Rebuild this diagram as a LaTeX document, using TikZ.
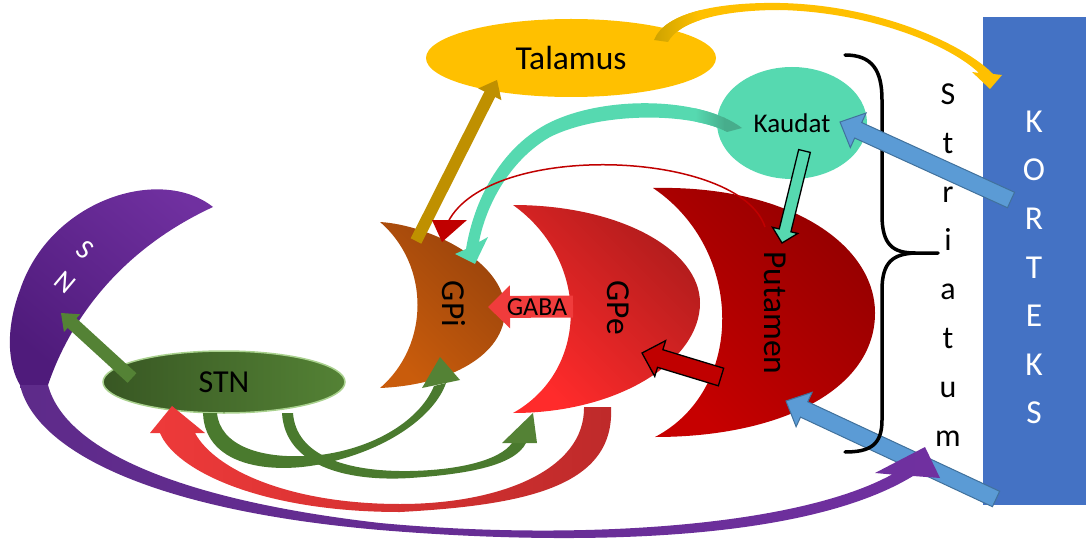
\documentclass[tikz,border=0pt]{standalone}
\usepackage{fontspec}
\setmainfont{Carlito}
\usetikzlibrary{calc,shapes.geometric}
\definecolor{kortB}{HTML}{4472C4}
\definecolor{talY}{HTML}{FFC000}
\definecolor{goldStart}{HTML}{C9A000}
\definecolor{goldD}{HTML}{BF9000}
\definecolor{kaudT}{HTML}{56D9B0}
\definecolor{tealStart}{HTML}{47AD8C}
\definecolor{stnD}{HTML}{385723}
\definecolor{stnL}{HTML}{548235}
\definecolor{stnEdge}{HTML}{A9D18E}
\definecolor{grn}{HTML}{548235}
\definecolor{grnBand}{HTML}{4A7A2E}
\definecolor{snTop}{HTML}{7030A0}
\definecolor{snBot}{HTML}{4F1B7B}
\definecolor{snTail}{HTML}{5E2B8A}
\definecolor{gpiL}{HTML}{C95C0C}
\definecolor{gpiD}{HTML}{9A440C}
\definecolor{gpeL}{HTML}{FF2B2B}
\definecolor{gpeD}{HTML}{B01C1C}
\definecolor{putL}{HTML}{C60000}
\definecolor{putD}{HTML}{940000}
\definecolor{gabaR}{HTML}{F03C3C}
\definecolor{redBand}{HTML}{EE3A3A}
\definecolor{redBandD}{HTML}{BE2A2A}
\definecolor{arcR}{HTML}{C00000}
\definecolor{blueA}{HTML}{5B9BD5}
\definecolor{blueE}{HTML}{41719C}

% #1 style, #2 tail coordinate, #3 tip coordinate, #4 half shaft, #5 half head, #6 head length
\newcommand\blockarrow[6]{%
  \path[#1] ($(#2)!#4!90:(#3)$) -- ($(#3)!#6!(#2)!#4!-90:(#2)$) -- ($(#3)!#6!(#2)!#5!-90:(#2)$)
    -- (#3) -- ($(#3)!#6!(#2)!#5!90:(#2)$) -- ($(#3)!#6!(#2)!#4!90:(#2)$) -- ($(#2)!#4!-90:(#3)$) -- cycle;}

\newcommand\goldbandpath{(654,40) .. controls (665,12) and (720,2) .. (780,3) .. controls (880,5) and (965,45) .. (993,74)
  -- (1002,75) -- (990,89) -- (972,72) -- (979,73) .. controls (950,45) and (870,12) .. (780,10)
  .. controls (725,10) and (680,20) .. (668,42) -- cycle}
\newcommand\tealbandpath{(742,128) .. controls (700,96) and (600,95) .. (545,125) .. controls (500,150) and (474,200) .. (466,249)
  -- (455,254) -- (475,264) -- (488,237) -- (479,242) .. controls (486,205) and (510,160) .. (550,137)
  .. controls (600,112) and (690,112) .. (727,132) -- cycle}

\begin{document}
\begin{tikzpicture}[x=1pt,y=-1pt,
  bigtxt/.style={font=\fontsize{33.5}{40}\selectfont, inner sep=0pt},
  kortletter/.style={bigtxt, text=white, anchor=base},
  strletter/.style={font=\fontsize{32}{38}\selectfont, inner sep=0pt, text=black, anchor=base},
  vtxt/.style={bigtxt, rotate=-90},
  blueArrow/.style={fill=blueA, draw=blueE, line width=1pt},
  outlineArrow/.style={draw=black, line width=1.3pt, line join=miter},
  bandGreen/.style={fill=grnBand},
  headGreen/.style={fill=grn}]
\useasboundingbox (0,0) rectangle (1086,540);

% ---- Korteks
\fill[kortB] (983,17) rectangle (1086,505);
\foreach \l [count=\i from 0] in {K,O,R,T,E,K,S}
  \node[kortletter] (kort\i) at (1034,{132.5+48.5*\i}) {\l};

% ---- Striatum letters
\foreach \l [count=\i from 0] in {S,t,r,i,a,t,u,m}
  \node[strletter] (str\i) at (948,{104.5+48.8*\i}) {\l};

% ---- SN crescent
\shade[top color=snTop, bottom color=snBot, shading angle=-40]
  (213,207) .. controls (160,165) and (50,200) .. (20,290) .. controls (5,330) and (8,365) .. (20,385)
  -- (48,385) .. controls (70,320) and (120,250) .. (213,207) -- cycle;

% ---- crescents
\shade[top color=putD, bottom color=putL, shading angle=-45]
  (653,188) .. controls (790,185) and (875,245) .. (875,313) .. controls (875,390) and (780,437) .. (655,437)
  .. controls (745,390) and (745,250) .. (653,188) -- cycle;
\shade[top color=gpeD, bottom color=gpeL, shading angle=-45]
  (513,205) .. controls (620,205) and (700,250) .. (700,303) .. controls (700,360) and (620,413) .. (513,413)
  .. controls (590,370) and (590,260) .. (513,205) -- cycle;
\shade[top color=gpiD, bottom color=gpiL, shading angle=-45]
  (380,222) .. controls (430,225) and (505,262) .. (505,310) .. controls (505,355) and (450,385) .. (380,388)
  .. controls (430,345) and (430,265) .. (380,222) -- cycle;

% ---- ellipses
\node[ellipse, fill=talY, minimum width=290pt, minimum height=78pt, inner sep=0pt,
  font=\fontsize{33.5}{40}\selectfont] (talamus) at (571,58) {Talamus};
\node[ellipse, fill=kaudT, minimum width=150pt, minimum height=112pt, inner sep=0pt,
  font=\fontsize{27}{32}\selectfont] (kaudat) at (792,123) {Kaudat};
\node[ellipse, left color=stnD, right color=stnL, draw=stnEdge, line width=1.5pt,
  minimum width=242pt, minimum height=62pt, inner sep=0pt,
  font=\fontsize{32}{38}\selectfont] (stn) at (224,382) {STN};

% ---- blue arrow to putamen, brace, blue arrow to kaudat
\coordinate (b2tail) at (996,499);
\coordinate (b2tip) at (786,401);
\blockarrow{blueArrow}{b2tail}{b2tip}{8.5pt}{19pt}{20pt}
\draw[line width=3.5pt, line cap=round]
  (845,55) .. controls (872,55) and (882,70) .. (882,100) -- (882,215)
  .. controls (882,245) and (893,253) .. (915,253) -- (938,253);
\draw[line width=3.5pt, line cap=round]
  (915,253) .. controls (893,254) and (882,262) .. (882,290) -- (882,420)
  .. controls (882,445) and (870,452) .. (845,452);
\coordinate (b1tail) at (1011,200);
\coordinate (b1tip) at (840,122);
\blockarrow{blueArrow}{b1tail}{b1tip}{8.5pt}{19pt}{20pt}

% ---- purple tail from SN to striatum
\shade[left color=snTail, right color=snTop]
  (20,385) .. controls (35,450) and (150,510) .. (380,530) .. controls (560,545) and (800,545) .. (913,476)
  -- (940,478) -- (925,447) -- (875,473) -- (892,474.5)
  .. controls (790,530) and (560,540) .. (380,523) .. controls (180,500) and (65,450) .. (48,385) -- cycle;

% ---- green STN -> SN
\coordinate (g0tail) at (132,378);
\coordinate (g0tip) at (61,313);
\blockarrow{fill=grn}{g0tail}{g0tip}{6.5pt}{12pt}{15pt}

% ---- red band GPe -> STN
\shade[left color=redBand, right color=redBandD]
  (611,407) .. controls (615,485) and (530,505) .. (400,512) .. controls (260,512) and (175,470) .. (160,433)
  -- (150,433) -- (172,406) -- (205,433) -- (195,433)
  .. controls (215,470) and (290,504) .. (400,504) .. controls (500,504) and (585,470) .. (584,407) -- cycle;

% ---- green bands STN -> GPi, STN -> GPe
\fill[bandGreen]
  (203,413) .. controls (205,470) and (280,475) .. (330,462) .. controls (390,448) and (435,415) .. (446,383)
  -- (434,386) .. controls (420,420) and (375,448) .. (320,455) .. controls (260,461) and (220,445) .. (217,413) -- cycle;
\fill[headGreen] (422,388) -- (440,357) -- (460,380) -- cycle;
\fill[bandGreen]
  (282,413) .. controls (285,465) and (345,482) .. (410,478) .. controls (470,474) and (515,465) .. (526,443)
  -- (512,443) .. controls (500,460) and (460,470) .. (410,471) .. controls (345,472) and (296,455) .. (293,413) -- cycle;
\fill[headGreen] (502,443) -- (533,413) -- (537,443) -- cycle;

% ---- straight arrows
\coordinate (gabatail) at (573,306.5);
\coordinate (gabatip) at (488,307);
\blockarrow{fill=gabaR}{gabatail}{gabatip}{11pt}{21.5pt}{22pt}
\node[font=\fontsize{26}{30}\selectfont, inner sep=0pt] (gaba) at (537,307) {GABA};

\coordinate (rtail) at (721,377);
\coordinate (rtip) at (642,353);
\blockarrow{outlineArrow, fill=arcR}{rtail}{rtip}{9.2pt}{18.7pt}{19pt}

\coordinate (ttail) at (804.5,151);
\coordinate (ttip) at (782,243);
\blockarrow{outlineArrow, fill=kaudT}{ttail}{ttip}{6pt}{13pt}{13pt}

\coordinate (ytail) at (416,241);
\coordinate (ytip) at (497,80);
\blockarrow{fill=goldD}{ytail}{ytip}{6pt}{13pt}{16pt}

% ---- teal band Kaudat -> GPi
\fill[kaudT] \tealbandpath;
\begin{scope}
  \clip \tealbandpath;
  \shade[left color=kaudT, right color=tealStart] (695,90) rectangle (725,140);
  \fill[tealStart] (724,90) rectangle (750,140);
\end{scope}

% ---- thin red arc Putamen -> GPi
\draw[arcR, line width=1.5pt] (765,227) .. controls (740,150) and (490,140) .. (448,222);
\fill[arcR] (432,220) -- (467,220) -- (442,242) -- cycle;

% ---- gold band Talamus -> Korteks
\fill[talY] \goldbandpath;
\begin{scope}
  \clip \goldbandpath;
  \shade[left color=goldStart, right color=talY] (650,0) rectangle (700,50);
\end{scope}

% ---- texts on crescents
\node[vtxt] (gpi) at (454,304) {GPi};
\node[vtxt] (gpe) at (618,308) {GPe};
\node[vtxt] (putamen) at (775,313) {Putamen};

% ---- SN letters
\node[font=\fontsize{28}{32}\selectfont, text=white, inner sep=0pt, rotate=-40] (snS) at (85,250) {S};
\node[font=\fontsize{28}{32}\selectfont, text=white, inner sep=0pt, rotate=-40] (snN) at (65,282) {N};
\end{tikzpicture}
\end{document}
